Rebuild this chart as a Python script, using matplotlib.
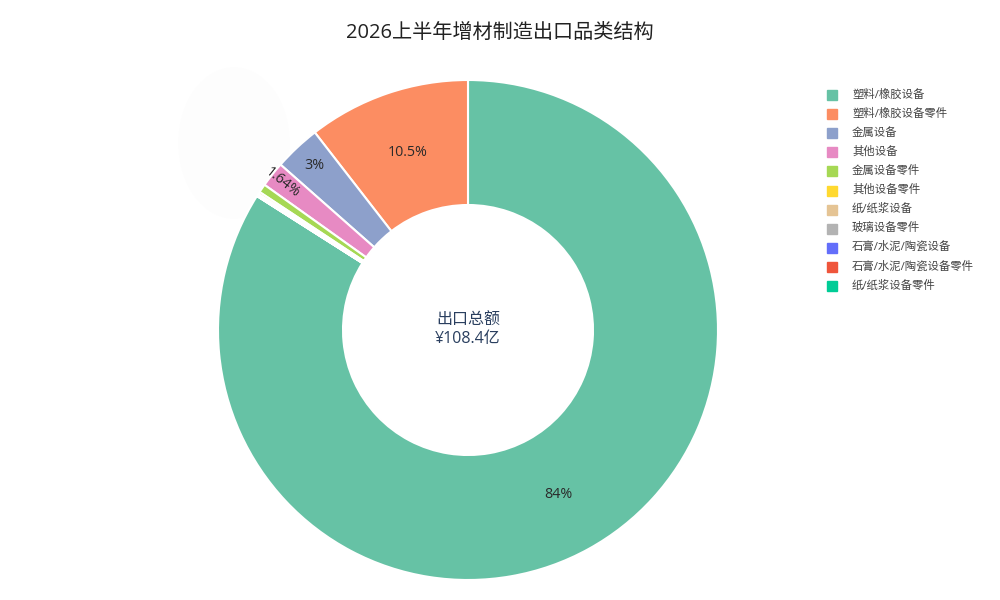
import numpy as np
import matplotlib
matplotlib.use("Agg")
import matplotlib.pyplot as plt
from matplotlib.patches import Ellipse

plt.rcParams['font.family'] = ['Open Sans', 'Noto Sans CJK SC', 'DejaVu Sans']

categories = ["塑料/橡胶设备", "塑料/橡胶设备零件", "金属设备", "其他设备", "金属设备零件",
              "其他设备零件", "纸/纸浆设备", "玻璃设备零件", "石膏/水泥/陶瓷设备",
              "石膏/水泥/陶瓷设备零件", "纸/纸浆设备零件"]
values = [91.06, 11.38, 3.25, 1.78, 0.60, 0.16, 0.065, 0.043, 0.033, 0.022, 0.011]
colors = ["#66c2a5", "#fc8d62", "#8da0cb", "#e78ac3", "#a6d854", "#ffd92f",
          "#e5c494", "#b3b3b3", "#636efa", "#EF553B", "#00cc96"]
title = "2026上半年增材制造出口品类结构"
center_text = "出口总额\n¥108.4亿"

W, H = 1000, 600
fig = plt.figure(figsize=(W / 100, H / 100), dpi=100)
fig.patch.set_facecolor("white")

# faint ghost blob
bg = fig.add_axes([0, 0, 1, 1])
bg.set_xlim(0, W); bg.set_ylim(H, 0); bg.axis("off")
bg.add_patch(Ellipse((234, 143), 110, 150, color="#fdfdfd", zorder=0))

cx, cy, R = 468, 330, 250
ax = fig.add_axes([(cx - R) / W, (H - cy - R) / H, 2 * R / W, 2 * R / H])
ax.patch.set_alpha(0)

total = sum(values)
start = 90 - values[0] / total * 360
wedges, _ = ax.pie(values, colors=colors, startangle=start, counterclock=True,
                   radius=1, wedgeprops=dict(width=0.5, edgecolor="white", linewidth=1.5))
ax.set_xlim(-1, 1); ax.set_ylim(-1, 1); ax.set_aspect("equal")
ax.axis("off")

def fmt(p):
    s = "%.3g" % p
    return s + "%"

for w, v in zip(wedges, values):
    p = v / total * 100
    if p < 1:
        continue
    mid = np.deg2rad((w.theta1 + w.theta2) / 2)
    rot = 0
    if p > 5:
        r = 0.75
    elif p > 2:
        r = 0.9
    else:
        r = 0.945
        rot = np.rad2deg(mid) - 180
    ax.text(r * np.cos(mid), r * np.sin(mid), fmt(p), ha="center", va="center",
            fontsize=10.3, color="#2a2a2a", rotation=rot, rotation_mode="anchor")

ax.text(0, 0, center_text, ha="center", va="center", fontsize=11.5, color="#2a3f5f",
        linespacing=1.25)

fig.text(0.5, 1 - 33 / H, title, ha="center", va="center", fontsize=14.5, color="#222222")

# legend
lx, ly, dy = 832, 95, 19.1
for i, (c, col) in enumerate(zip(categories, colors)):
    y = ly + i * dy
    bg.add_patch(plt.Rectangle((lx - 5, y - 5), 10, 10, color=col))
    bg.text(852, y, c, ha="left", va="center", fontsize=8.2, color="#444444")

fig.savefig("out.png", dpi=100, facecolor="white")
